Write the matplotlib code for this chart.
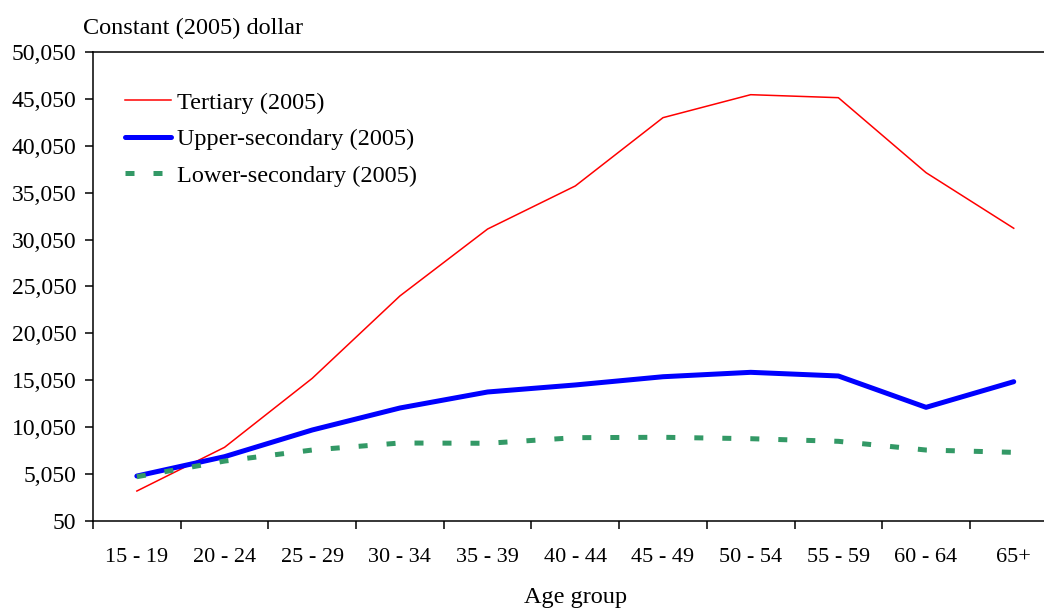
import matplotlib
matplotlib.use("Agg")
import matplotlib.pyplot as plt
from matplotlib.ticker import FuncFormatter, FixedLocator

# data
age_groups = ["15 - 19", "20 - 24", "25 - 29", "30 - 34", "35 - 39", "40 - 44",
              "45 - 49", "50 - 54", "55 - 59", "60 - 64", "65+"]
tertiary = [3200, 7870, 15240, 24040, 31190, 35790, 43085, 45540, 45220, 37210, 31270]
upper_secondary = [4800, 6870, 9720, 12070, 13780, 14530, 15410, 15880, 15490, 12140, 14880]
lower_secondary = [4730, 6400, 7580, 8330, 8300, 8900, 8940, 8790, 8510, 7580, 7330]

plt.rcParams["font.family"] = ["Liberation Serif", "DejaVu Serif"]

fig = plt.figure(figsize=(10.44, 6.08), dpi=100)
ax = fig.add_axes([0.0891, 0.1439, 0.9239, 0.7698])

x = list(range(len(age_groups)))
ax.plot(x, tertiary, color="#ff0000", lw=1.1, label="Tertiary (2005)")
ax.plot(x, upper_secondary, color="#0000ff", lw=3.6, solid_capstyle="round",
        label="Upper-secondary (2005)")
ax.plot(x, lower_secondary, color="#339966", lw=3.6, dashes=(1.8, 3.8),
        dash_capstyle="butt", label="Lower-secondary (2005)")

ax.set_xlim(-0.5, len(age_groups) - 0.5)
ax.set_ylim(50, 50050)
ax.set_yticks(range(50, 50051, 5000))
ax.yaxis.set_major_formatter(FuncFormatter(lambda v, p: f"{int(v):,}"))
ax.set_xticks(x)
ax.set_xticklabels(age_groups)
ax.xaxis.set_minor_locator(FixedLocator([i - 0.5 for i in range(len(age_groups) + 1)]))

ax.tick_params(axis="x", which="major", length=0, pad=20, labelsize=16)
ax.tick_params(axis="x", which="minor", length=6, width=1.1, direction="out")
ax.tick_params(axis="y", length=6, width=1.1, direction="out", pad=6, labelsize=17)

for side in ["left", "bottom", "top"]:
    ax.spines[side].set_linewidth(1.1)
ax.spines["right"].set_visible(False)

ax.set_xlabel("Age group", fontsize=17.5, labelpad=14)
fig.text(83 / 1044, 1 - 28 / 608, "Constant (2005) dollar", fontsize=17.5,
         ha="left", va="center")

ax.legend(loc="upper left", bbox_to_anchor=(0.023, 0.937), frameon=False,
          fontsize=17.5, handlelength=1.9, handletextpad=0.25, labelspacing=0.6,
          borderaxespad=0)

fig.savefig("out.png", dpi=100)
